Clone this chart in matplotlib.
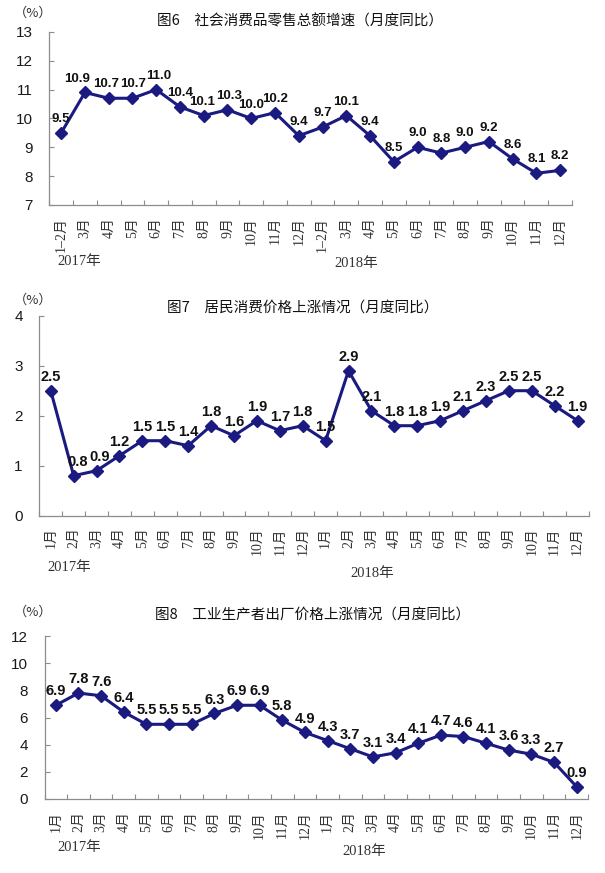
import matplotlib
matplotlib.use("Agg")
import matplotlib.pyplot as plt
import numpy as np

plt.rcParams['font.family'] = ['Liberation Sans', 'Noto Sans CJK SC', 'DejaVu Sans']

W, H = 605, 873

# ---------------- data ----------------
title6 = "图6\u3000社会消费品零售总额增速（月度同比）"
labels6 = ["1–2月", "3月", "4月", "5月", "6月", "7月", "8月", "9月", "10月", "11月", "12月",
           "1–2月", "3月", "4月", "5月", "6月", "7月", "8月", "9月", "10月", "11月", "12月"]
values6 = [9.5, 10.9, 10.7, 10.7, 11.0, 10.4, 10.1, 10.3, 10.0, 10.2, 9.4,
           9.7, 10.1, 9.4, 8.5, 9.0, 8.8, 9.0, 9.2, 8.6, 8.1, 8.2]
yticks6 = [7, 8, 9, 10, 11, 12, 13]

title7 = "图7\u3000居民消费价格上涨情况（月度同比）"
months = ["1月", "2月", "3月", "4月", "5月", "6月", "7月", "8月", "9月", "10月", "11月", "12月"]
labels7 = months + months
values7 = [2.5, 0.8, 0.9, 1.2, 1.5, 1.5, 1.4, 1.8, 1.6, 1.9, 1.7, 1.8,
           1.5, 2.9, 2.1, 1.8, 1.8, 1.9, 2.1, 2.3, 2.5, 2.5, 2.2, 1.9]
yticks7 = [0, 1, 2, 3, 4]

title8 = "图8\u3000工业生产者出厂价格上涨情况（月度同比）"
labels8 = months + months
values8 = [6.9, 7.8, 7.6, 6.4, 5.5, 5.5, 5.5, 6.3, 6.9, 6.9, 5.8, 4.9,
           4.3, 3.7, 3.1, 3.4, 4.1, 4.7, 4.6, 4.1, 3.6, 3.3, 2.7, 0.9]
yticks8 = [0, 2, 4, 6, 8, 10, 12]

years = ["2017年", "2018年"]

# ---------------- style ----------------
LINE = '#1a1a80'
AXC = '#8c8c8c'
SERIF = ['Liberation Serif', 'Noto Sans CJK SC']
CJK = ['Noto Sans CJK SC', 'DejaVu Sans']

fig = plt.figure(figsize=(W / 100, H / 100), dpi=100)
fig.patch.set_facecolor('white')


def fx(x):
    return x / W


def fy(y):
    return 1 - y / H


def make_panel(left, right, top, bottom, labels, values, yticks, title,
               title_xy, pct_xy, y17_xy, y18_xy, lab_fs, nudges=None):
    nudges = nudges or {}
    ax = fig.add_axes([fx(left), fy(bottom), (right - left) / W, (bottom - top) / H])
    n = len(values)
    x = np.arange(n)
    ax.plot(x, values, color=LINE, lw=2.2, marker='D', ms=5.8, mfc=LINE, mec=LINE,
            clip_on=False, zorder=3)
    ax.set_xlim(-0.5, n - 0.5)
    ax.set_ylim(yticks[0], yticks[-1])
    ax.set_yticks(yticks)
    ax.set_yticklabels([str(v) for v in yticks], fontsize=11, color='#1a1a1a')
    ax.set_xticks(x)
    ax.set_xticklabels(labels, rotation=90, fontsize=10, family=SERIF, color='#333333')
    ax.set_xticks(np.arange(n + 1) - 0.5, minor=True)
    ax.tick_params(axis='x', which='major', length=0, pad=8.5)
    ax.tick_params(axis='x', which='minor', direction='in', length=3.5, color=AXC, width=0.8)
    ax.tick_params(axis='y', direction='in', length=3.5, color=AXC, width=0.8, pad=12)
    for s in ['top', 'right']:
        ax.spines[s].set_visible(False)
    for s in ['left', 'bottom']:
        ax.spines[s].set_color(AXC)
        ax.spines[s].set_linewidth(0.9)
    for i, (xi, v) in enumerate(zip(x, values)):
        dx = nudges.get(i, 0)
        ax.annotate(f"{v:.1f}", (xi, v), xytext=(dx, 10), textcoords='offset points',
                    ha='center', va='center', fontsize=lab_fs, fontweight='bold',
                    color='#111111', zorder=4)
    fig.text(fx(title_xy[0]), fy(title_xy[1]), title, ha='center', va='center',
             fontsize=10.5, family=CJK, color='#111111')
    fig.text(fx(pct_xy[0]), fy(pct_xy[1]), "（%）", ha='center', va='center',
             fontsize=9.5, family=CJK, color='#333333')
    fig.text(fx(y17_xy[0]), fy(y17_xy[1]), years[0], ha='center', va='center',
             fontsize=10.5, family=SERIF, color='#333333')
    fig.text(fx(y18_xy[0]), fy(y18_xy[1]), years[1], ha='center', va='center',
             fontsize=10.5, family=SERIF, color='#333333')
    return ax


make_panel(49.3, 572, 31.9, 205, labels6, values6, yticks6, title6,
           (300, 21.7), (33, 13), (79, 262), (356, 263), 9.5,
           nudges={1: -6, 2: -1.5, 3: 0.5, 4: 1.5, 6: -1, 7: 1})
make_panel(39.3, 589, 315.7, 515.7, labels7, values7, yticks7, title7,
           (303, 308), (33, 300), (69, 568), (372, 573), 10.5, nudges={1: 3, 2: 2})
make_panel(44.5, 588, 636, 799, labels8, values8, yticks8, title8,
           (313, 615), (33, 612), (79, 848), (364, 852), 10.5)

fig.savefig("out.png", dpi=100, facecolor='white')
